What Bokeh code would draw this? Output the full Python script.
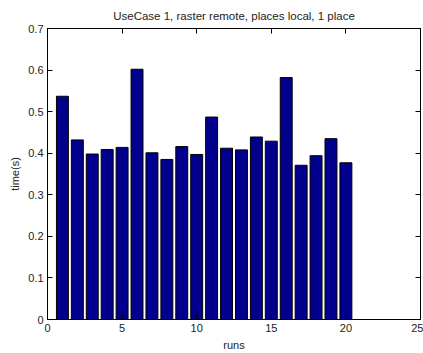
from bokeh.plotting import figure
from bokeh.models import Range1d, LinearAxis, FixedTicker, ColumnDataSource
from bokeh.embed import file_html
from bokeh.resources import INLINE

# run index and measured time per run (seconds)
runs = list(range(1, 21))
times = [0.537, 0.432, 0.398, 0.409, 0.414, 0.602, 0.401, 0.385, 0.416, 0.397,
         0.487, 0.412, 0.408, 0.439, 0.429, 0.582, 0.371, 0.394, 0.435, 0.377]
x_ticks = [0, 5, 10, 15, 20, 25]
y_ticks = [0, 0.1, 0.2, 0.3, 0.4, 0.5, 0.6, 0.7]

FONT = "Liberation Sans"

p = figure(width=423, height=353, output_backend="svg", toolbar_location=None,
           x_range=Range1d(0, 25), y_range=Range1d(0, 0.7),
           title="UseCase 1, raster remote, places local, 1 place",
           min_border_left=47, min_border_right=3, min_border_top=27, min_border_bottom=32)

src = ColumnDataSource(dict(x=runs, top=times))
p.vbar(x="x", top="top", width=0.8, bottom=0, source=src,
       fill_color="#00008C", line_color="black", line_width=1)

p.xgrid.visible = False
p.ygrid.visible = False
p.outline_line_color = "black"
p.outline_line_width = 1

p.title.align = "center"
p.title.text_font = FONT
p.title.text_font_size = "11.5px"
p.title.text_font_style = "normal"
p.title.text_color = "#222222"
p.title.standoff = 14

for ax, ticks in ((p.xaxis[0], x_ticks), (p.yaxis[0], y_ticks)):
    ax.ticker = FixedTicker(ticks=ticks)
    ax.major_tick_in = 5
    ax.major_tick_out = 0
    ax.minor_tick_line_color = None
    ax.axis_line_color = "black"
    ax.major_tick_line_color = "black"
    ax.major_label_text_font = FONT
    ax.major_label_text_font_size = "11px"
    ax.major_label_text_color = "#222222"
    ax.axis_label_text_font = FONT
    ax.axis_label_text_font_size = "11px"
    ax.axis_label_text_font_style = "normal"
    ax.axis_label_text_color = "#222222"
    ax.major_label_standoff = 4
    ax.axis_label_standoff = 4

p.xaxis.axis_label = "runs"
p.yaxis.axis_label = "time(s)"
p.yaxis.major_label_orientation = "horizontal"

# mirrored tick marks on the top and right edges of the box (no labels there)
for side, ticks in (("above", x_ticks), ("right", y_ticks)):
    ax = LinearAxis(ticker=FixedTicker(ticks=ticks))
    ax.major_tick_in = 5
    ax.major_tick_out = 0
    ax.minor_tick_line_color = None
    ax.axis_line_color = "black"
    ax.major_tick_line_color = "black"
    ax.major_label_text_font_size = "1px"
    ax.major_label_text_color = None
    ax.major_label_standoff = 0
    p.add_layout(ax, side)

open("out.html", "w").write(file_html(p, INLINE))
